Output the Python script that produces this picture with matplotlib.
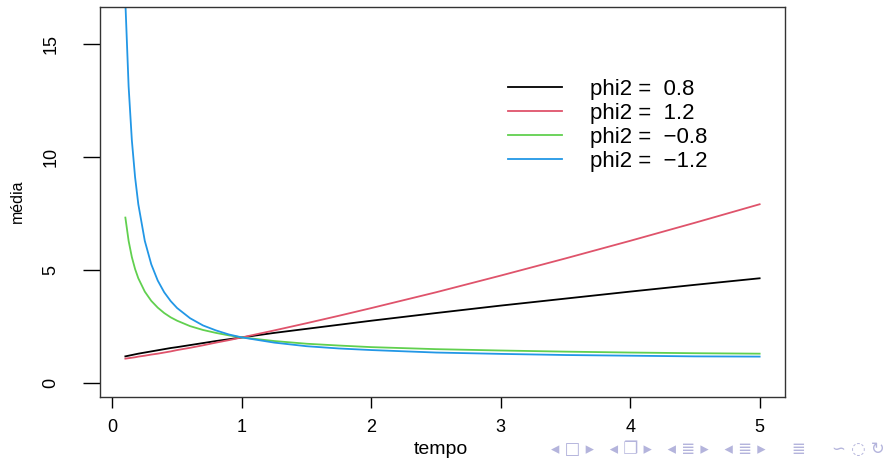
import matplotlib
matplotlib.use("Agg")
import matplotlib.pyplot as plt

plt.rcParams['font.family'] = ['Liberation Sans', 'DejaVu Sans']

# tempo values (fine steps near zero where the curves bend)
tempo = [0.1, 0.125, 0.15, 0.175, 0.2, 0.25, 0.3, 0.35, 0.4, 0.45, 0.5,
         0.6, 0.7, 0.8, 0.9, 1.0,
         1.25, 1.5, 1.75, 2.0, 2.5, 3.0, 3.5, 4.0, 4.5, 5.0]

media_08 = [1.16, 1.19, 1.22, 1.25, 1.28, 1.33, 1.38, 1.43, 1.48, 1.53, 1.57,
            1.66, 1.75, 1.84, 1.92, 2.00,
            2.20, 2.38, 2.56, 2.74, 3.08, 3.41, 3.72, 4.03, 4.33, 4.62]
media_12 = [1.06, 1.08, 1.10, 1.12, 1.15, 1.19, 1.24, 1.28, 1.33, 1.38, 1.44,
            1.54, 1.65, 1.77, 1.88, 2.00,
            2.31, 2.63, 2.96, 3.30, 4.00, 4.74, 5.50, 6.28, 7.08, 7.90]
media_m08 = [7.31, 6.28, 5.56, 5.03, 4.62, 4.03, 3.62, 3.32, 3.08, 2.89, 2.74,
             2.50, 2.33, 2.20, 2.09, 2.00,
             1.84, 1.72, 1.64, 1.57, 1.48, 1.42, 1.37, 1.33, 1.30, 1.28]
media_m12 = [16.85, 13.13, 10.74, 9.10, 7.90, 6.28, 5.24, 4.52, 4.00, 3.61, 3.30,
             2.85, 2.53, 2.31, 2.13, 2.00,
             1.77, 1.61, 1.51, 1.44, 1.33, 1.27, 1.22, 1.19, 1.16, 1.15]

labels = ["phi2 =  0.8", "phi2 =  1.2", "phi2 =  \u22120.8", "phi2 =  \u22121.2"]
colors = ["#000000", "#DF536B", "#61D04F", "#2297E6"]

fig = plt.figure(figsize=(8.88, 4.59), dpi=100)
ax = fig.add_axes([100 / 888, 1 - 397 / 459, 685 / 888, 390 / 459])

for ys, lab, c in zip([media_08, media_12, media_m08, media_m12], labels, colors):
    ax.plot(tempo, ys, color=c, lw=1.3, label=lab)

ax.set_xlim(-0.096, 5.196)
ax.set_ylim(-0.64, 16.64)
ax.set_xticks([0, 1, 2, 3, 4, 5])
ax.set_yticks([0, 5, 10, 15])
ax.set_yticklabels(["0", "5", "10", "15"], rotation=90, va="center")
ax.tick_params(axis="x", length=8, width=1, labelsize=13, pad=8)
ax.tick_params(axis="y", length=12, width=1, labelsize=13, pad=17)
for s in ax.spines.values():
    s.set_color("#333333")
    s.set_linewidth(1)

fig.text(441 / 888, 1 - 449 / 459, "tempo", fontsize=14, ha="center", va="center")
fig.text(17 / 888, 1 - 201 / 459, "média", fontsize=11.5, rotation=90,
         ha="center", va="center")

ax.legend(loc="upper left", bbox_to_anchor=(508 / 888, 1 - 79 / 459),
          bbox_transform=fig.transFigure, frameon=False, fontsize=16,
          handlelength=2.43, handletextpad=1.26, labelspacing=0.13,
          borderaxespad=0, borderpad=0)

# beamer navigation symbols
fig.text(885 / 888, 1 - 449 / 459,
         "\u25c2 \u25a1 \u25b8   \u25c2 \u2750 \u25b8   \u25c2 \u2263 \u25b8   \u25c2 \u2263 \u25b8     \u2263     \u223d \u25cc \u21bb",
         fontsize=12, color="#b4b4dc", ha="right", va="center",
         family=["DejaVu Sans"])

fig.savefig("out.png", dpi=100)
